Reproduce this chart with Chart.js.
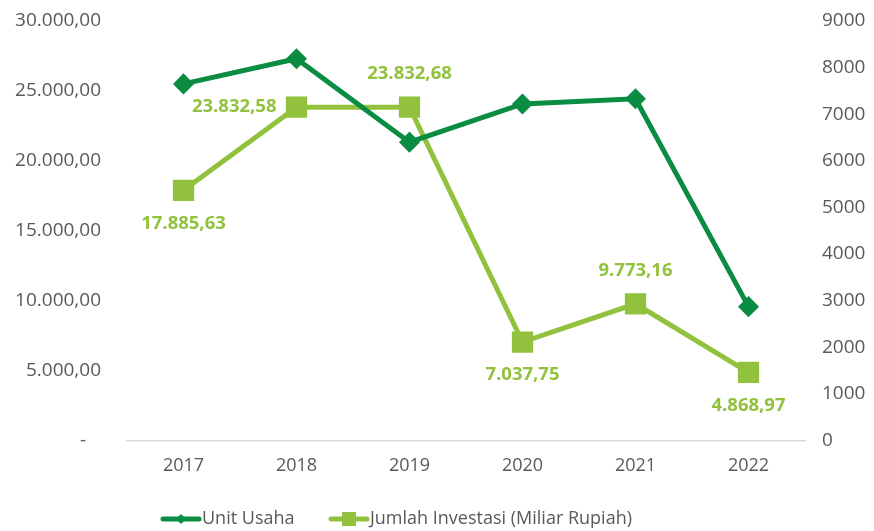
<!DOCTYPE html>
<html>
<head>
<meta charset="utf-8">
<script src="https://cdn.jsdelivr.net/npm/chart.js@4.4.0/dist/chart.umd.min.js"></script>
<style>
  html, body { margin: 0; padding: 0; background: #fff; }
  #wrap { width: 874px; height: 531px; position: relative; }
</style>
</head>
<body>
<div id="wrap"><canvas id="chart"></canvas></div>
<script>
const years = ['2017', '2018', '2019', '2020', '2021', '2022'];
const unitUsaha = [7650, 8190, 6400, 7220, 7330, 2870];
const investasi = [17885.63, 23832.58, 23832.68, 7037.75, 9773.16, 4868.97];
const investasiLabelPos = ['below', 'left', 'above', 'below', 'above', 'below'];
const leftTicks = [0, 5000, 10000, 15000, 20000, 25000, 30000];
const rightTicks = [0, 1000, 2000, 3000, 4000, 5000, 6000, 7000, 8000, 9000];

const DARK = '#0B8C43';
const LIGHT = '#92C13E';
const TEXT = '#595959';
const FONT = "'Open Sans', 'Liberation Sans', sans-serif";

const fmtID = v => v.toLocaleString('de-DE', { minimumFractionDigits: 2, maximumFractionDigits: 2 });

const dataLabels = {
  id: 'dataLabels',
  afterDatasetsDraw(chart) {
    const meta = chart.getDatasetMeta(1);
    const ctx = chart.ctx;
    ctx.save();
    ctx.fillStyle = LIGHT;
    ctx.font = `bold 18.5px ${FONT}`;
    ctx.textBaseline = 'middle';
    meta.data.forEach((pt, i) => {
      const txt = fmtID(investasi[i]);
      const pos = investasiLabelPos[i];
      let x = pt.x, y = pt.y;
      ctx.textAlign = 'center';
      if (pos === 'below') y += 33;
      else if (pos === 'above') y -= 33;
      else if (pos === 'left') { x -= 20; ctx.textAlign = 'right'; }
      ctx.fillText(txt, x, y);
    });
    ctx.restore();
  }
};

const bottomLegend = {
  id: 'bottomLegend',
  afterDraw(chart) {
    const ctx = chart.ctx;
    const items = [{ x: 163 }, { x: 331 }];
    ctx.save();
    ctx.font = `18px ${FONT}`;
    ctx.textBaseline = 'middle';
    chart.data.datasets.forEach((ds, i) => {
      const y = 519, x0 = items[i].x, x1 = x0 + 36;
      ctx.strokeStyle = ds.borderColor;
      ctx.lineWidth = 5;
      ctx.lineCap = 'round';
      ctx.beginPath(); ctx.moveTo(x0, y); ctx.lineTo(x1, y); ctx.stroke();
      ctx.fillStyle = ds.borderColor;
      const cx = (x0 + x1) / 2;
      ctx.beginPath();
      if (ds.pointStyle === 'rectRot') {
        ctx.moveTo(cx - 5, y); ctx.lineTo(cx, y - 5); ctx.lineTo(cx + 5, y); ctx.lineTo(cx, y + 5);
      } else {
        ctx.rect(cx - 7, y - 7, 14, 14);
      }
      ctx.fill();
      ctx.fillStyle = TEXT;
      ctx.textAlign = 'left';
      ctx.fillText(ds.label, x1 + 3, y);
    });
    ctx.restore();
  }
};

const fitSide = w => s => { s.width = w; s.paddingTop = 0; s.paddingBottom = 0; };

new Chart(document.getElementById('chart'), {
  type: 'line',
  data: {
    labels: years,
    datasets: [
      {
        label: 'Unit Usaha',
        data: unitUsaha,
        yAxisID: 'y1',
        borderColor: DARK,
        backgroundColor: DARK,
        borderWidth: 5,
        pointStyle: 'rectRot',
        pointRadius: 7,
        pointHoverRadius: 7,
        tension: 0
      },
      {
        label: 'Jumlah Investasi (Miliar Rupiah)',
        data: investasi,
        yAxisID: 'y',
        borderColor: LIGHT,
        backgroundColor: LIGHT,
        borderWidth: 5,
        pointStyle: 'rect',
        pointRadius: 11.5,
        pointHoverRadius: 11.5,
        tension: 0
      }
    ]
  },
  options: {
    responsive: true,
    maintainAspectRatio: false,
    animation: false,
    layout: { padding: { top: 21, bottom: 39, left: 0, right: 0 } },
    plugins: {
      legend: { display: false },
      tooltip: { enabled: false }
    },
    scales: {
      x: {
        offset: true,
        grid: { display: false, drawTicks: false },
        border: { display: true, color: '#D9D9D9', width: 1.5 },
        ticks: { color: TEXT, font: { family: FONT, size: 18 }, padding: 15 }
      },
      y: {
        position: 'left',
        min: 0, max: 30000,
        afterBuildTicks: s => { s.ticks = leftTicks.map(v => ({ value: v })); },
        afterFit: fitSide(127),
        grid: { display: false, drawTicks: false },
        border: { display: false },
        ticks: {
          color: TEXT, font: { family: FONT, size: 19 }, padding: 26,
          callback: v => v === 0 ? '-   ' : fmtID(v)
        }
      },
      y1: {
        position: 'right',
        min: 0, max: 9000,
        afterBuildTicks: s => { s.ticks = rightTicks.map(v => ({ value: v })); },
        afterFit: fitSide(69),
        grid: { display: false, drawTicks: false },
        border: { display: false },
        ticks: {
          color: TEXT, font: { family: FONT, size: 19 }, padding: 17,
          callback: v => String(v)
        }
      }
    }
  },
  plugins: [dataLabels, bottomLegend]
});
</script>
</body>
</html>
